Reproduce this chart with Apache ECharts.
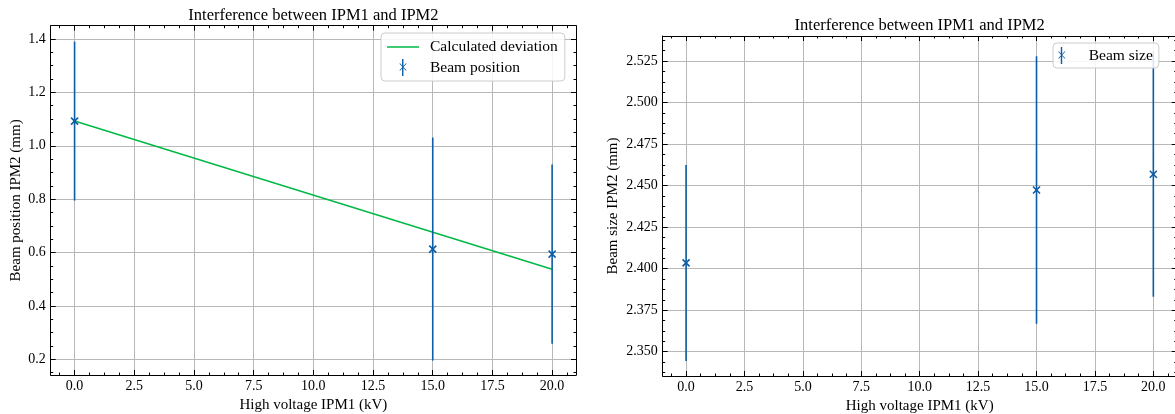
<!DOCTYPE html>
<html>
<head>
<meta charset="utf-8">
<script src="https://cdn.jsdelivr.net/npm/echarts@6/dist/echarts.min.js"></script>
<style>
html,body{margin:0;padding:0;background:#ffffff;}
#chart{width:1175px;height:414px;}
</style>
</head>
<body>
<div id="chart"></div>
<script>
// ---------------- data ----------------
const voltages = [0, 15, 20];
const beamPosition = [1.0925, 0.613, 0.594];
const beamPositionErr = [0.2978, 0.4177, 0.336];
const deviationX = [0, 20];
const deviationY = [1.0925, 0.5375];
const beamSize = [2.4035, 2.4474, 2.4569];
const beamSizeErr = [0.059, 0.0805, 0.0738];

// ---------------- ticks ----------------
const xMajorTicks = [0, 2.5, 5, 7.5, 10, 12.5, 15, 17.5, 20];
const posMajorTicks = [0.2, 0.4, 0.6, 0.8, 1.0, 1.2, 1.4];
const sizeMajorTicks = [2.350, 2.375, 2.400, 2.425, 2.450, 2.475, 2.500, 2.525];

const X_RANGE = [-1, 21];
const POS_RANGE = [0.1412, 1.4498];
const SIZE_RANGE = [2.3354, 2.5401];

function minorTicks(range, step) {
  const out = [];
  const start = Math.ceil(range[0] / step - 1e-9);
  for (let k = start; k * step <= range[1] + 1e-12; k++) out.push(+(k * step).toFixed(6));
  return out;
}
const xMinorTicks = minorTicks(X_RANGE, 0.625);
const posMinorTicks = minorTicks(POS_RANGE, 0.05);
const sizeMinorTicks = minorTicks(SIZE_RANGE, 0.00625);

// ---------------- styles ----------------
const FONT = 'Liberation Serif';
const BLUE = '#0C5DA5';
const GREEN = '#00B945';
const GRID_COLOR = '#b8b8b8';

function axisSet(dim, gridIndex, range, major, minor, fmt, name, nameGap) {
  const mainPos = dim === 'x' ? 'bottom' : 'left';
  const oppPos = dim === 'x' ? 'top' : 'right';
  const common = {
    type: 'value', gridIndex: gridIndex, min: range[0], max: range[1],
    axisPointer: {show: false}, silent: true
  };
  const tickStyle = {color: '#000', width: 1};
  return [
    Object.assign({}, common, {
      position: mainPos,
      name: name, nameLocation: 'middle', nameGap: nameGap,
      nameTextStyle: {fontFamily: FONT, fontSize: 15, color: '#000'},
      axisLine: {show: true, onZero: false, lineStyle: {color: '#000', width: 1}},
      axisTick: {show: true, inside: true, length: 5, customValues: major, lineStyle: tickStyle},
      axisLabel: {show: true, customValues: major, formatter: fmt, margin: dim === 'x' ? 4 : 5,
                  fontFamily: FONT, fontSize: 14, color: '#000',
                  showMinLabel: true, showMaxLabel: true},
      splitLine: {show: true, lineStyle: {color: GRID_COLOR, width: 1}}
    }),
    Object.assign({}, common, {
      position: oppPos,
      axisLine: {show: true, onZero: false, lineStyle: {color: '#000', width: 1}},
      axisTick: {show: true, inside: true, length: 5, customValues: major, lineStyle: tickStyle},
      axisLabel: {show: false},
      splitLine: {show: false}
    }),
    Object.assign({}, common, {
      position: mainPos,
      axisLine: {show: false, onZero: false},
      axisTick: {show: true, inside: true, length: 2.5, customValues: minor, lineStyle: tickStyle},
      axisLabel: {show: false},
      splitLine: {show: false}
    }),
    Object.assign({}, common, {
      position: oppPos,
      axisLine: {show: false, onZero: false},
      axisTick: {show: true, inside: true, length: 2.5, customValues: minor, lineStyle: tickStyle},
      axisLabel: {show: false},
      splitLine: {show: false}
    })
  ];
}

function errRender(params, api) {
  const x = api.value(0), y = api.value(1), e = api.value(2);
  const top = api.coord([x, y + e]);
  const bot = api.coord([x, y - e]);
  const c = api.coord([x, y]);
  const s = 3.5;
  const style = {stroke: BLUE, lineWidth: 1.6, fill: null};
  return {
    type: 'group',
    children: [
      {type: 'line', shape: {x1: top[0], y1: top[1], x2: bot[0], y2: bot[1]}, style: style},
      {type: 'line', shape: {x1: c[0] - s, y1: c[1] - s, x2: c[0] + s, y2: c[1] + s}, style: style},
      {type: 'line', shape: {x1: c[0] - s, y1: c[1] + s, x2: c[0] + s, y2: c[1] - s}, style: style}
    ]
  };
}

const errIcon = 'path://M3.6 0H5.0V17H3.6Z' +
  'M0.8 4.5L1.8 4.5L8.3 11.5L7.3 11.5Z' +
  'M7.3 4.5L8.3 4.5L1.8 11.5L0.8 11.5Z';
const lineIcon = 'path://M0 0H32V1.5H0Z';

const fmt1 = v => v.toFixed(1);
const fmt3 = v => v.toFixed(3);

const xAxes = [].concat(
  axisSet('x', 0, X_RANGE, xMajorTicks, xMinorTicks, fmt1, 'High voltage IPM1 (kV)', 22),
  axisSet('x', 1, X_RANGE, xMajorTicks, xMinorTicks, fmt1, 'High voltage IPM1 (kV)', 22)
);
const yAxes = [].concat(
  axisSet('y', 0, POS_RANGE, posMajorTicks, posMinorTicks, fmt1, 'Beam position IPM2 (mm)', 27),
  axisSet('y', 1, SIZE_RANGE, sizeMajorTicks, sizeMinorTicks, fmt3, 'Beam size IPM2 (mm)', 42)
);

const legendCommon = {
  orient: 'vertical',
  itemWidth: 32, itemHeight: 17, itemGap: 4,
  backgroundColor: 'rgba(255,255,255,0.85)',
  borderColor: '#cccccc', borderWidth: 1, borderRadius: 4,
  textStyle: {fontFamily: FONT, fontSize: 15.5, color: '#000', padding: [0, 0, 0, 6]},
  selectedMode: false
};

const option = {
  animation: false,
  backgroundColor: '#ffffff',
  title: [
    {text: 'Interference between IPM1 and IPM2', left: 313.4, top: 7, textAlign: 'center', padding: 0,
     textStyle: {fontFamily: FONT, fontSize: 16.5, fontWeight: 'normal', color: '#000'}},
    {text: 'Interference between IPM1 and IPM2', left: 919.7, top: 17, textAlign: 'center', padding: 0,
     textStyle: {fontFamily: FONT, fontSize: 16.5, fontWeight: 'normal', color: '#000'}}
  ],
  grid: [
    {left: 50.7, top: 25.7, width: 525.3, height: 349.3, containLabel: false, outerBoundsMode: 'none'},
    {left: 662.7, top: 36, width: 514, height: 340, containLabel: false, outerBoundsMode: 'none'}
  ],
  legend: [
    Object.assign({}, legendCommon, {
      left: 381, top: 33, padding: [6, 7, 5, 6],
      data: [{name: 'Calculated deviation', icon: lineIcon}, {name: 'Beam position', icon: errIcon}]
    }),
    Object.assign({}, legendCommon, {
      left: 1053, top: 43, padding: [4, 6, 4, 5],
      textStyle: {fontFamily: FONT, fontSize: 15.5, color: '#000', padding: [0, 0, 0, 6]},
      data: [{name: 'Beam size', icon: errIcon}]
    })
  ],
  xAxis: xAxes,
  yAxis: yAxes,
  series: [
    {
      name: 'Calculated deviation', type: 'line', xAxisIndex: 0, yAxisIndex: 0,
      data: deviationX.map((x, i) => [x, deviationY[i]]),
      symbol: 'none', showSymbol: false,
      lineStyle: {color: GREEN, width: 1.5},
      itemStyle: {color: GREEN}, z: 2, silent: true
    },
    {
      name: 'Beam position', type: 'custom', coordinateSystem: 'cartesian2d',
      xAxisIndex: 0, yAxisIndex: 0,
      data: voltages.map((x, i) => [x, beamPosition[i], beamPositionErr[i]]),
      encode: {x: 0, y: 1},
      renderItem: errRender, itemStyle: {color: BLUE}, z: 3, silent: true
    },
    {
      name: 'Beam size', type: 'custom', coordinateSystem: 'cartesian2d',
      xAxisIndex: 4, yAxisIndex: 4,
      data: voltages.map((x, i) => [x, beamSize[i], beamSizeErr[i]]),
      encode: {x: 0, y: 1},
      renderItem: errRender, itemStyle: {color: BLUE}, z: 3, silent: true
    }
  ]
};

const chart = echarts.init(document.getElementById('chart'), null, {renderer: 'canvas'});
chart.setOption(option);
</script>
</body>
</html>
